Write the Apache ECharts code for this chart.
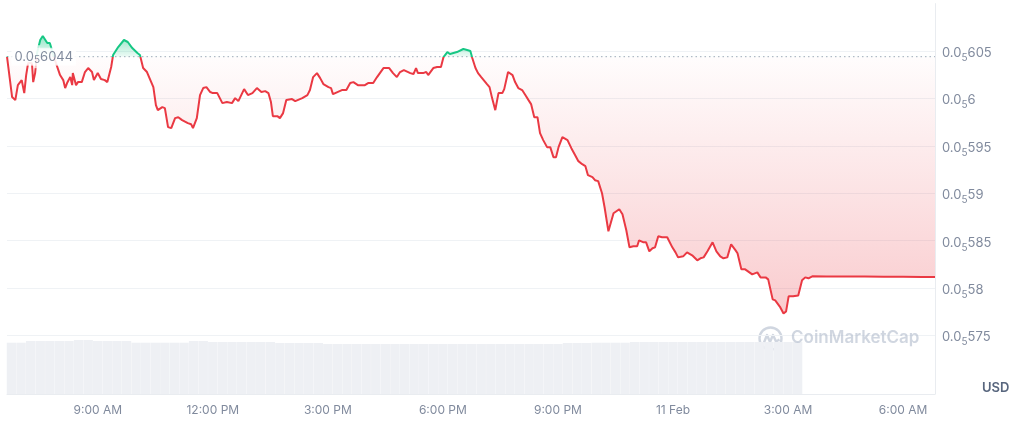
<!DOCTYPE html>
<html>
<head>
<meta charset="utf-8">
<script src="https://cdn.jsdelivr.net/npm/echarts@6/dist/echarts.min.js"></script>
<style>
html,body{margin:0;padding:0;background:#ffffff;}
#chart{width:1024px;height:424px;}
</style>
</head>
<body>
<div id="chart"></div>
<script>
// ---- DATA ----
// time in minutes since 00:00 on 10 Feb (values > 1440 are on 11 Feb)
const times = [398,406,411,415,421,425,428,431,437,439,442,445,450,454,461,465,468,473,481,486,489,492,497,500,501,506,509,515,520,525,531,534,540,545,551,555,561,564,572,581,587,594,602,606,611,617,620,627,631,634,641,645,650,655,661,666,672,675,681,686,689,695,700,705,710,716,720,727,735,742,750,755,760,769,775,782,789,796,802,807,811,814,821,825,830,835,838,844,849,860,868,872,877,883,888,893,901,905,908,915,922,929,935,940,947,958,963,971,977,987,996,1002,1008,1013,1019,1029,1034,1038,1041,1049,1054,1057,1065,1071,1077,1081,1087,1091,1102,1112,1118,1123,1126,1131,1135,1140,1143,1149,1153,1157,1162,1167,1173,1176,1182,1189,1193,1198,1204,1209,1214,1218,1223,1228,1232,1237,1243,1248,1253,1257,1261,1267,1275,1281,1287,1292,1298,1303,1307,1314,1318,1323,1329,1333,1339,1342,1347,1356,1361,1367,1372,1378,1384,1387,1394,1398,1403,1408,1412,1417,1423,1431,1439,1444,1448,1456,1462,1470,1478,1483,1488,1494,1502,1508,1514,1519,1525,1531,1538,1541,1547,1553,1556,1564,1567,1572,1577,1585,1589,1596,1600,1608,1613,1617,1621,1628,1636,1642,1647,1652,1658,1680,1710,1740,1770,1800,1830,1850];
// price in USD
const prices = [6.0440e-6,6.0014e-6,5.9982e-6,6.0140e-6,6.0193e-6,6.0056e-6,6.0246e-6,6.0373e-6,6.0373e-6,6.0172e-6,6.0267e-6,6.0478e-6,6.0616e-6,6.0658e-6,6.0584e-6,6.0584e-6,6.0563e-6,6.0405e-6,6.0246e-6,6.0193e-6,6.0109e-6,6.0162e-6,6.0225e-6,6.0140e-6,6.0267e-6,6.0140e-6,6.0172e-6,6.0172e-6,6.0278e-6,6.0320e-6,6.0278e-6,6.0193e-6,6.0267e-6,6.0204e-6,6.0193e-6,6.0172e-6,6.0331e-6,6.0457e-6,6.0542e-6,6.0616e-6,6.0595e-6,6.0531e-6,6.0478e-6,6.0457e-6,6.0320e-6,6.0278e-6,6.0278e-6,6.0119e-6,5.9929e-6,5.9876e-6,5.9908e-6,5.9898e-6,5.9697e-6,5.9686e-6,5.9792e-6,5.9802e-6,5.9771e-6,5.9792e-6,5.9739e-6,5.9728e-6,5.9686e-6,5.9792e-6,6.0035e-6,6.0109e-6,6.0119e-6,6.0067e-6,6.0056e-6,6.0056e-6,5.9950e-6,5.9961e-6,5.9950e-6,6.0003e-6,5.9971e-6,6.0098e-6,6.0035e-6,6.0056e-6,6.0109e-6,6.0067e-6,6.0077e-6,6.0056e-6,5.9961e-6,5.9813e-6,5.9813e-6,5.9792e-6,5.9845e-6,5.9982e-6,5.9961e-6,5.9993e-6,5.9971e-6,6.0003e-6,6.0035e-6,6.0088e-6,6.0225e-6,6.0267e-6,6.0214e-6,6.0151e-6,6.0119e-6,6.0109e-6,6.0045e-6,6.0067e-6,6.0088e-6,6.0088e-6,6.0162e-6,6.0172e-6,6.0140e-6,6.0140e-6,6.0162e-6,6.0162e-6,6.0225e-6,6.0320e-6,6.0320e-6,6.0267e-6,6.0225e-6,6.0278e-6,6.0299e-6,6.0267e-6,6.0257e-6,6.0320e-6,6.0267e-6,6.0267e-6,6.0278e-6,6.0246e-6,6.0320e-6,6.0331e-6,6.0331e-6,6.0436e-6,6.0489e-6,6.0468e-6,6.0489e-6,6.0521e-6,6.0510e-6,6.0500e-6,6.0426e-6,6.0320e-6,6.0267e-6,6.0225e-6,6.0204e-6,6.0151e-6,6.0119e-6,6.0003e-6,5.9876e-6,6.0056e-6,6.0056e-6,6.0098e-6,6.0278e-6,6.0246e-6,6.0172e-6,6.0109e-6,6.0088e-6,6.0035e-6,5.9982e-6,5.9940e-6,5.9802e-6,5.9802e-6,5.9633e-6,5.9560e-6,5.9486e-6,5.9486e-6,5.9380e-6,5.9380e-6,5.9486e-6,5.9591e-6,5.9560e-6,5.9475e-6,5.9401e-6,5.9338e-6,5.9306e-6,5.9285e-6,5.9190e-6,5.9169e-6,5.9137e-6,5.9127e-6,5.9000e-6,5.8852e-6,5.8598e-6,5.8588e-6,5.8788e-6,5.8831e-6,5.8778e-6,5.8609e-6,5.8429e-6,5.8440e-6,5.8440e-6,5.8503e-6,5.8482e-6,5.8482e-6,5.8387e-6,5.8419e-6,5.8429e-6,5.8545e-6,5.8535e-6,5.8535e-6,5.8429e-6,5.8376e-6,5.8323e-6,5.8334e-6,5.8376e-6,5.8345e-6,5.8292e-6,5.8313e-6,5.8323e-6,5.8387e-6,5.8482e-6,5.8387e-6,5.8334e-6,5.8313e-6,5.8323e-6,5.8461e-6,5.8397e-6,5.8366e-6,5.8197e-6,5.8197e-6,5.8197e-6,5.8144e-6,5.8123e-6,5.8165e-6,5.8112e-6,5.8112e-6,5.8091e-6,5.7880e-6,5.7869e-6,5.7795e-6,5.7732e-6,5.7753e-6,5.7912e-6,5.7912e-6,5.7922e-6,5.8081e-6,5.8112e-6,5.8102e-6,5.8123e-6,5.8120e-6,5.8120e-6,5.8120e-6,5.8118e-6,5.8118e-6,5.8115e-6,5.8115e-6];
const basePrice = 6.044e-6;   // opening reference price shown on the dotted line

// volume bars (15-minute buckets starting 06:45)
const volStartMin = 405;
const volStepMin = 15;
const volumes = [51.3,51.3,53,53,53,53,53,54,54,53,53,53,53,51.3,51.3,51.3,51.3,51.3,51.3,53,53,52,52,52,52,52,52,52,51,51,51,51,51,50,50,50,50,50,50,50,50,50,50,50,50,50,50,50,50,50,50,50,50,50,50,50,50,50,51,51,51,51.3,51.3,51.3,51.3,52,52,52,52,52,52,52,52,52,52,52,52,52,52,52,52,52,52];

const xTickValues = [540,720,900,1080,1260,1440,1620,1800];
const xTickLabels = ['9:00 AM','12:00 PM','3:00 PM','6:00 PM','9:00 PM','11 Feb','3:00 AM','6:00 AM'];
const xMin = 398, xMax = 1850;
const yMin = 5.70e-6, yMax = 6.10e-6, yStep = 5e-8;
const volMax = 64;

// ---- CHART ----
const FONT = 'Inter, "Noto Sans", sans-serif';
const LABEL = '#808a9d';
const RED = '#ea3943', GREEN = '#16c784';
const TAG_BG = 'rgba(255,255,255,0.85)';

function fmtPrice(v) {
  const n = Math.round(v * 1e9);
  const digits = String(n).replace(/0+$/, '');
  return '{m|0.0}{s|5}{m|' + digits + '}';
}
function richFor(color) {
  return {
    m: { fontSize: 13, lineHeight: 20, color: color, fontFamily: FONT, verticalAlign: 'middle' },
    s: { fontSize: 10, lineHeight: 9, color: color, fontFamily: FONT, verticalAlign: 'bottom' }
  };
}

const lineData = times.map((t, i) => [t, prices[i]]);
const volData = volumes.map((v, i) => [volStartMin + i * volStepMin, v]);

const chart = echarts.init(document.getElementById('chart'), null, { renderer: 'canvas' });

const option = {
  animation: false,
  backgroundColor: '#ffffff',
  textStyle: { fontFamily: FONT },
  grid: [
    { left: 7, right: 89, top: 3.6, bottom: 41.2, containLabel: false, outerBoundsMode: 'none' },
    { left: 7, right: 89, top: 330, bottom: 30, containLabel: false, outerBoundsMode: 'none' }
  ],
  xAxis: [
    { type: 'value', gridIndex: 0, min: xMin, max: xMax, show: false },
    {
      type: 'value', gridIndex: 1, min: xMin, max: xMax,
      axisLine: { show: true, lineStyle: { color: '#e9ecf0', width: 1 } },
      axisTick: { show: false },
      splitLine: { show: false },
      axisLabel: {
        customValues: xTickValues,
        margin: 10, color: LABEL, fontSize: 12, fontFamily: FONT,
        formatter: function (v) {
          const i = xTickValues.indexOf(Math.round(v));
          return i >= 0 ? xTickLabels[i] : '';
        }
      }
    }
  ],
  yAxis: [
    {
      type: 'value', gridIndex: 0, position: 'right', min: yMin, max: yMax, interval: yStep,
      axisLine: { show: true, lineStyle: { color: '#e9ecf0', width: 1 } },
      axisTick: { show: false },
      splitLine: { show: true, showMinLine: false, showMaxLine: false, lineStyle: { color: '#eff2f5', width: 1 } },
      axisLabel: {
        showMinLabel: false, showMaxLabel: false,
        margin: 7, color: LABEL, fontFamily: FONT, padding: [4, 0, 0, 0],
        formatter: fmtPrice, rich: richFor(LABEL)
      }
    },
    {
      type: 'value', gridIndex: 1, position: 'right', min: 0, max: volMax,
      axisLine: { show: true, lineStyle: { color: '#e9ecf0', width: 1 } },
      axisTick: { show: false }, axisLabel: { show: false }, splitLine: { show: false }
    }
  ],
  series: [
    {
      name: 'price',
      type: 'line', xAxisIndex: 0, yAxisIndex: 0, data: lineData,
      showSymbol: false, symbol: 'none', smooth: false, z: 4,
      lineStyle: { width: 2, color: RED },
      areaStyle: { origin: basePrice, opacity: 1, color: 'rgba(234,57,67,0.08)' }
    },
    {
      name: 'reference',
      type: 'line', xAxisIndex: 0, yAxisIndex: 0,
      data: [[xMin, basePrice], [xMax, basePrice]],
      showSymbol: false, symbol: 'none', silent: true, z: 3,
      lineStyle: { color: '#a3abba', type: [1.5, 3], width: 1 }
    },
    {
      name: 'referenceLabel',
      type: 'scatter', xAxisIndex: 0, yAxisIndex: 0,
      data: [[xMin, basePrice]],
      symbolSize: 1, itemStyle: { color: 'rgba(0,0,0,0)' }, silent: true, z: 10,
      label: {
        show: true, position: 'right', distance: 4,
        formatter: function () { return fmtPrice(basePrice); },
        rich: {
          m: { fontSize: 13, lineHeight: 16, height: 16, color: '#616e85', fontFamily: FONT, verticalAlign: 'middle', backgroundColor: TAG_BG },
          s: { fontSize: 10, lineHeight: 16, height: 16, color: '#616e85', fontFamily: FONT, verticalAlign: 'middle', backgroundColor: TAG_BG, padding: [7, 0, 0, 0] },
          p: { width: 3, height: 16, lineHeight: 16, backgroundColor: TAG_BG }
        },
        backgroundColor: TAG_BG,
        padding: [1, 0]
      }
    },
    {
      name: 'volume',
      type: 'bar', xAxisIndex: 1, yAxisIndex: 1, data: volData,
      barWidth: 9.4, silent: true, z: 1,
      itemStyle: { color: '#eef0f4' }
    }
  ],
  graphic: [
    {
      type: 'group', left: 757, top: 325, z: 100, silent: true,
      children: [
        { type: 'circle', shape: { cx: 12, cy: 12, r: 11 }, style: { fill: 'none', stroke: 'rgba(170,180,198,0.55)', lineWidth: 2.4 } },
        { type: 'polyline', shape: { points: [[5.5, 16], [8.5, 8.5], [11.5, 15.5], [14.5, 8.5], [17.5, 15], [21, 13]] }, style: { fill: 'none', stroke: 'rgba(170,180,198,0.55)', lineWidth: 2.4, lineJoin: 'round' } }
      ]
    },
    {
      type: 'text', left: 791, top: 329, z: 100, silent: true,
      style: { text: 'CoinMarketCap', font: '600 17px Inter, "Noto Sans", sans-serif', fill: 'rgba(170,180,198,0.55)' }
    },
    {
      type: 'text', left: 982, top: 382, z: 100, silent: true,
      style: { text: 'USD', font: '600 13px Inter, "Noto Sans", sans-serif', fill: '#58667e' }
    }
  ]
};

// label text uses padding tokens so the white tag covers the whole text
option.series[2].label.formatter = function () {
  return '{p|}' + fmtPrice(basePrice) + '{p|}';
};

chart.setOption(option);

// colours anchored to the reference price: green above, red below
const pMax = Math.max.apply(null, prices), pMin = Math.min.apply(null, prices);
const yTop = chart.convertToPixel({ yAxisIndex: 0 }, pMax);
const yBase = chart.convertToPixel({ yAxisIndex: 0 }, basePrice);
const yBot = chart.convertToPixel({ yAxisIndex: 0 }, pMin);
const f = (yBase - yTop) / (yBot - yTop);
chart.setOption({
  series: [{
    name: 'price',
    lineStyle: {
      width: 2,
      color: {
        type: 'linear', global: true, x: 0, y: yTop, x2: 0, y2: yBot,
        colorStops: [
          { offset: 0, color: GREEN },
          { offset: f, color: GREEN },
          { offset: f, color: RED },
          { offset: 1, color: RED }
        ]
      }
    },
    areaStyle: {
      origin: basePrice, opacity: 1,
      color: {
        type: 'linear', global: true, x: 0, y: yTop, x2: 0, y2: yBot,
        colorStops: [
          { offset: 0, color: 'rgba(22,199,132,0.45)' },
          { offset: f, color: 'rgba(22,199,132,0.08)' },
          { offset: f, color: 'rgba(234,57,67,0.01)' },
          { offset: 1, color: 'rgba(234,57,67,0.26)' }
        ]
      }
    }
  }]
});
</script>
</body>
</html>
